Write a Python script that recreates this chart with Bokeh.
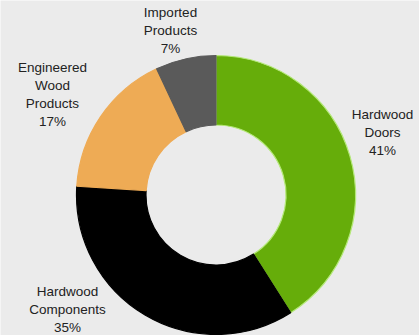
import numpy as np
from bokeh.plotting import figure
from bokeh.models import ColumnDataSource, Range1d
from bokeh.core.properties import value
from bokeh.embed import file_html
from bokeh.resources import INLINE

categories = ["Hardwood Doors", "Hardwood Components", "Engineered Wood Products", "Imported Products"]
shares = [41, 35, 17, 7]
label_texts = ["Hardwood\nDoors\n41%", "Hardwood\nComponents\n35%",
               "Engineered\nWood\nProducts\n17%", "Imported\nProducts\n7%"]
colors = ["#66ad0a", "#000000", "#eeab55", "#5a5a5a"]
line_colors = ["#b4e878", "#000000", "#eeab55", "#5a5a5a"]

# label anchor positions (pixels, y from bottom)
label_x = [382, 67, 52, 170]
label_y = [335 - 132, 335 - 309, 335 - 94, 335 - 30]

W, H = 419, 335
cx, cy = 215.5, 335 - 194.5
r_out, r_in = 139.5, 70

frac = np.array(shares, dtype=float) / sum(shares)
cum = np.concatenate([[0], np.cumsum(frac)])
start = np.pi / 2 - 2 * np.pi * cum[:-1]
end = np.pi / 2 - 2 * np.pi * cum[1:]

src = ColumnDataSource(dict(cat=categories, start=start, end=end, color=colors, lc=line_colors,
                            x=[cx] * 4, y=[cy] * 4))

p = figure(width=W, height=H, output_backend="svg", toolbar_location=None,
           x_range=Range1d(0, W), y_range=Range1d(0, H), min_border=0)
p.axis.visible = False
p.grid.visible = False
p.outline_line_color = None
p.background_fill_color = "#ebebeb"
p.border_fill_color = "#ebebeb"

p.annular_wedge(x="x", y="y", inner_radius=r_in, outer_radius=r_out,
                start_angle="start", end_angle="end", direction="clock",
                fill_color="color", line_color="lc", line_width=1.2, source=src)

lsrc = ColumnDataSource(dict(x=label_x, y=label_y, t=label_texts))
p.text(x="x", y="y", text="t", source=lsrc, text_font=value("Liberation Sans"),
       text_font_size="13.5px", text_align="center", text_baseline="middle",
       text_color="#222222", text_line_height=1.22)

open("out.html", "w").write(file_html(p, INLINE))
